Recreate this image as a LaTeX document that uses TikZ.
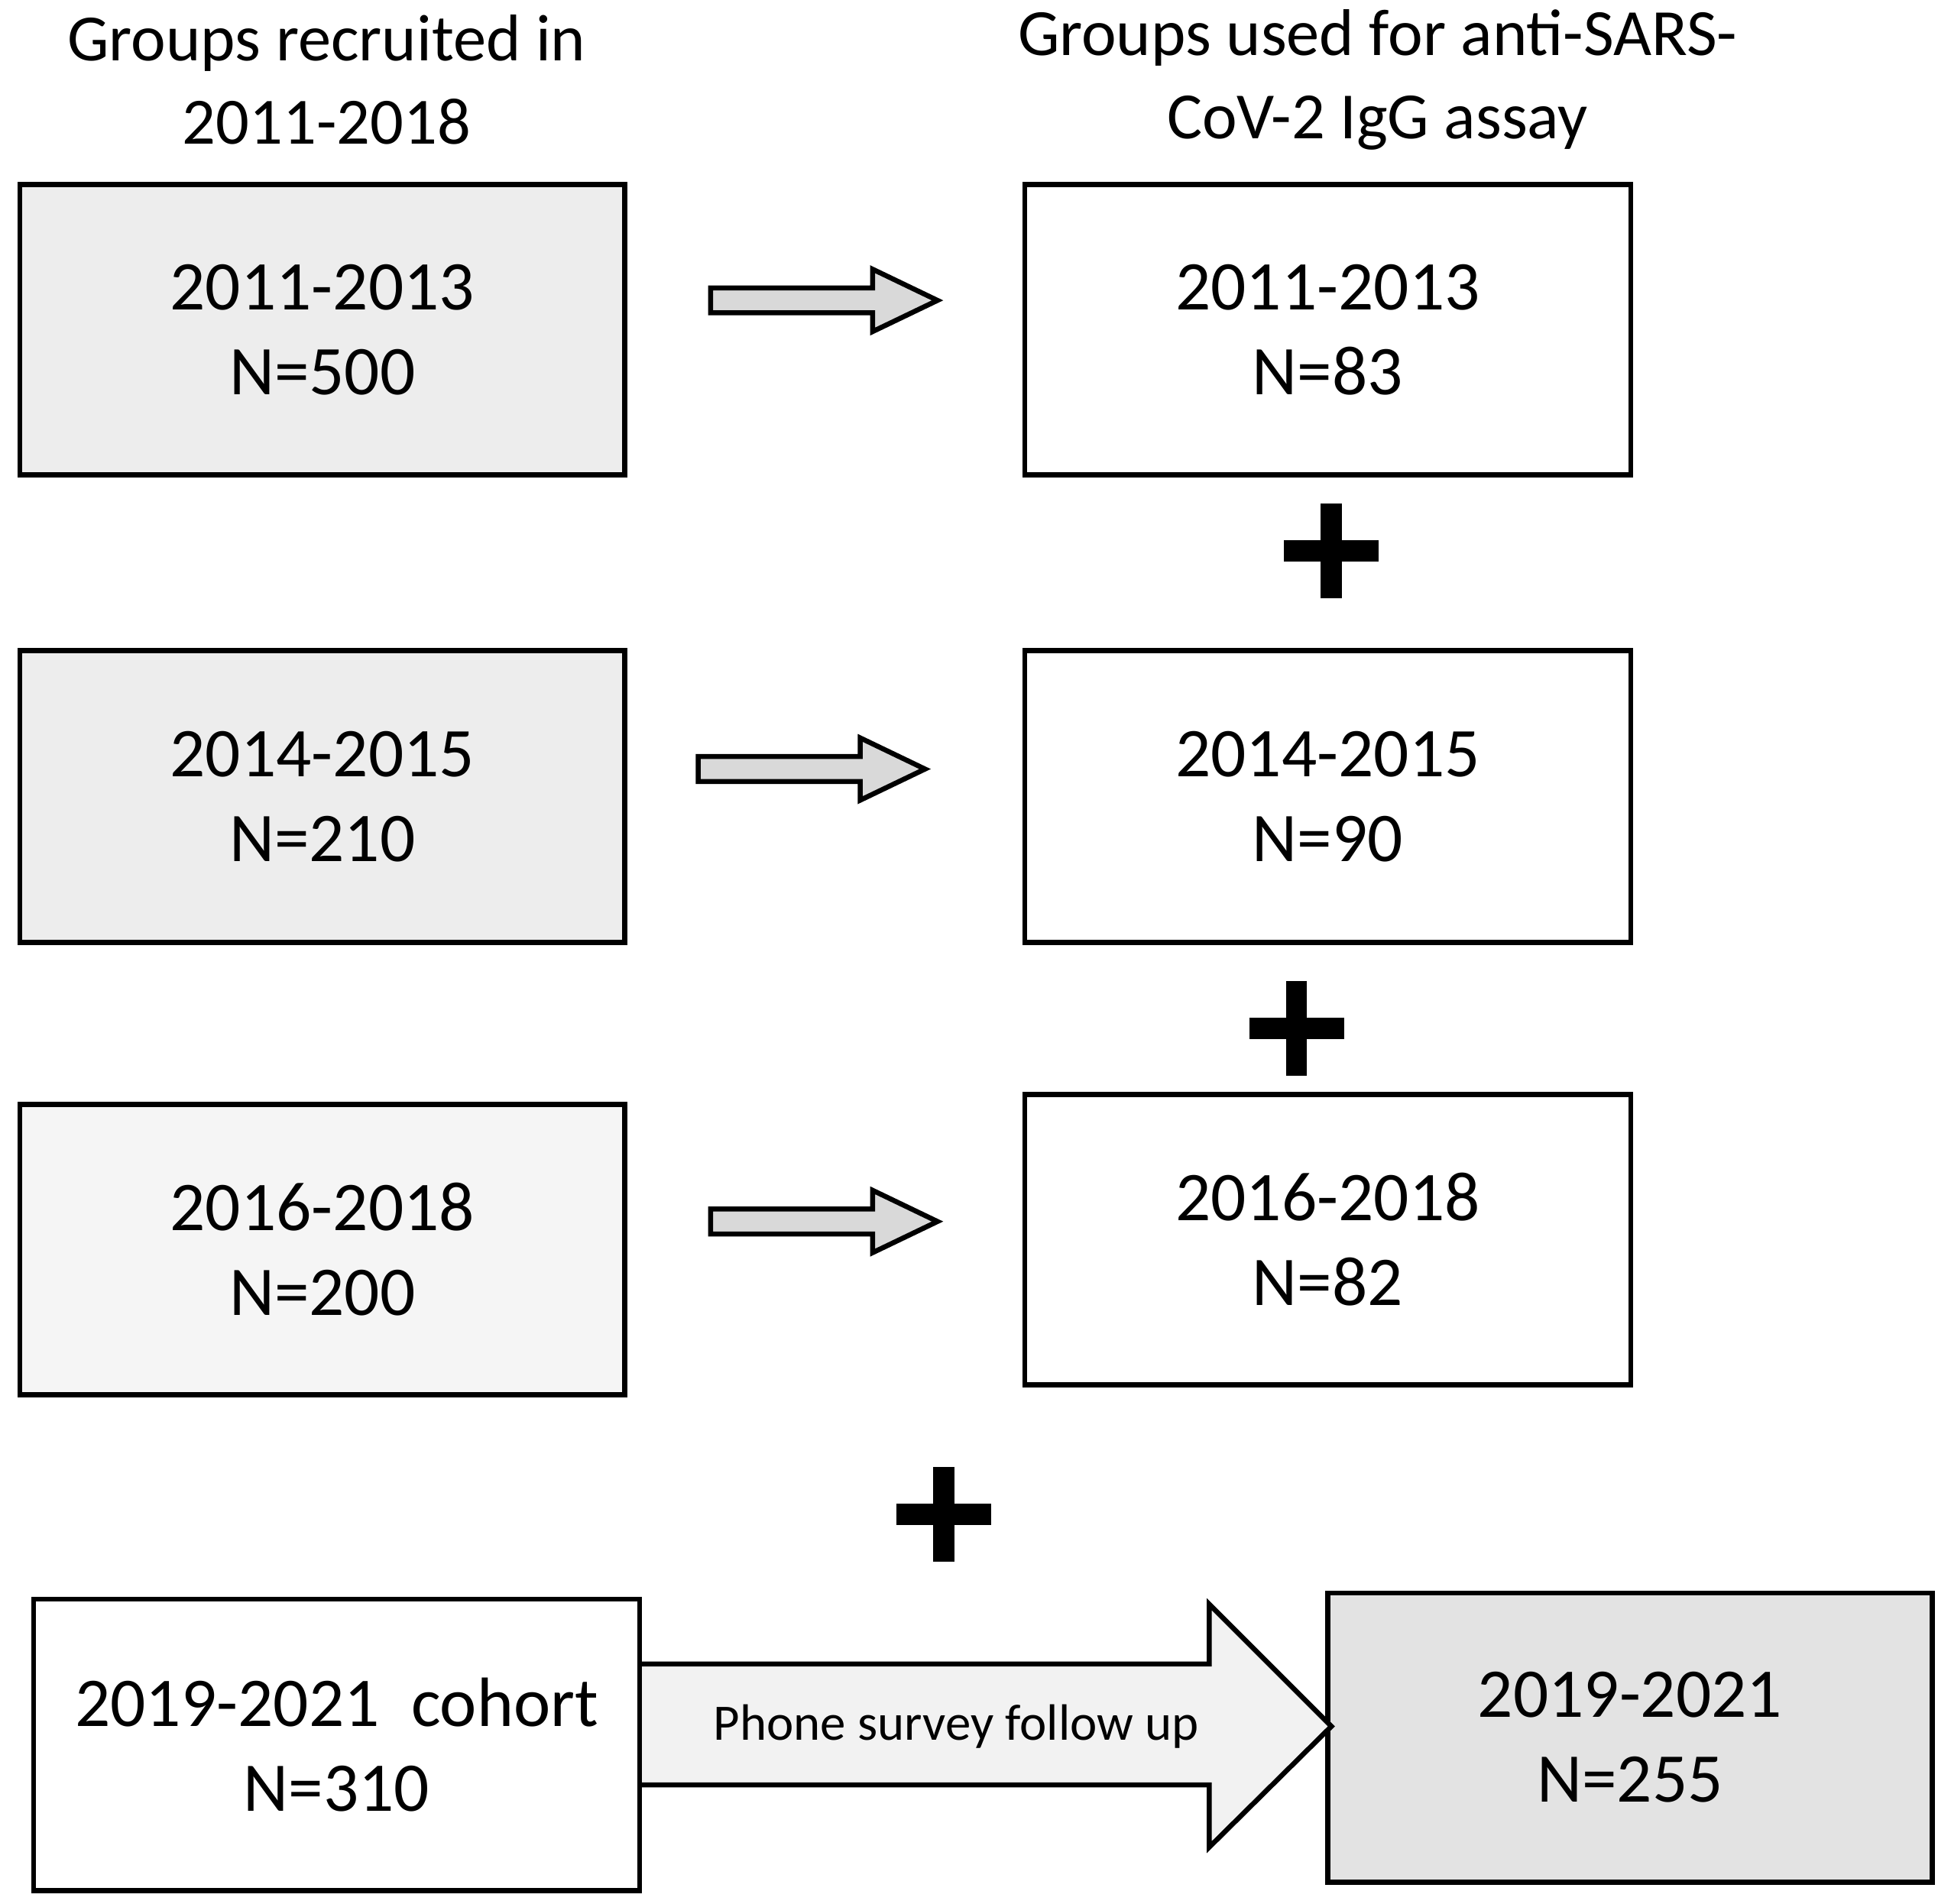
\documentclass[tikz,border=0pt]{standalone}
\usepackage{fontspec}
\setmainfont{Carlito}
\usetikzlibrary{patterns}
\begin{document}
\begin{tikzpicture}[x=1pt,y=-1pt,
 box/.style={draw=black,line width=4pt,anchor=north west,inner sep=0pt,align=center,font=\fontsize{56}{68}\selectfont},
 lbox/.style={box,fill=gray!14},
 harrow/.style={draw=black,line width=4pt,fill=gray!30,line join=miter},
 plus/.style={line width=17pt}]
\useasboundingbox (0,0) rectangle (1565,1527);
\node[align=center,font=\fontsize{53}{67}\selectfont] (t1) at (262,64) {Groups recruited in\\2011-2018};
\node[align=center,font=\fontsize{53}{67}\selectfont] (t2) at (1105,64) {Groups used for anti-SARS-\\CoV-2 IgG assay};
\node[lbox,minimum width=485pt,minimum height=233pt] (l1) at (14,146) {2011-2013\\N=500};
\node[lbox,minimum width=485pt,minimum height=234pt] (l2) at (14,520) {2014-2015\\N=210};
\node[lbox,fill=gray!8,minimum width=485pt,minimum height=233pt] (l3) at (14,884) {2016-2018\\N=200};
\node[box,minimum width=486pt,minimum height=233pt] (r1) at (820,146) {2011-2013\\N=83};
\node[box,minimum width=486pt,minimum height=234pt] (r2) at (820,520) {2014-2015\\N=90};
\node[box,minimum width=486pt,minimum height=233pt] (r3) at (820,876) {2016-2018\\N=82};
\node[box,minimum width=486pt,minimum height=234pt] (b1) at (25,1281) {2019-2021\ \ cohort\\N=310};
\node[box,fill=gray!22,minimum width=485pt,minimum height=232pt] (b2) at (1063,1276) {2019-2021\\N=255};
\foreach \x/\y in {570/241,560/617,570/980}{
 \draw[harrow] (\x,\y-10) -- (\x+130,\y-10) -- (\x+130,\y-25) -- (\x+182,\y) -- (\x+130,\y+25) -- (\x+130,\y+10) -- (\x,\y+10) -- cycle;}
\foreach \x/\y in {1068/442,1040/825,757/1215}{
 \draw[plus] (\x-38,\y) -- (\x+38,\y); \draw[plus] (\x,\y-38) -- (\x,\y+38);}
\draw[line width=4pt,fill=gray!10,line join=miter] (b1.east|-0,1335) -- (970,1335) -- (970,1287) -- (1068,1385) -- (970,1482) -- (970,1432) -- (b1.east|-0,1432);
\node[font=\fontsize{41}{44}\selectfont] (ph) at (767,1385) {Phone survey follow up};
\end{tikzpicture}
\end{document}
